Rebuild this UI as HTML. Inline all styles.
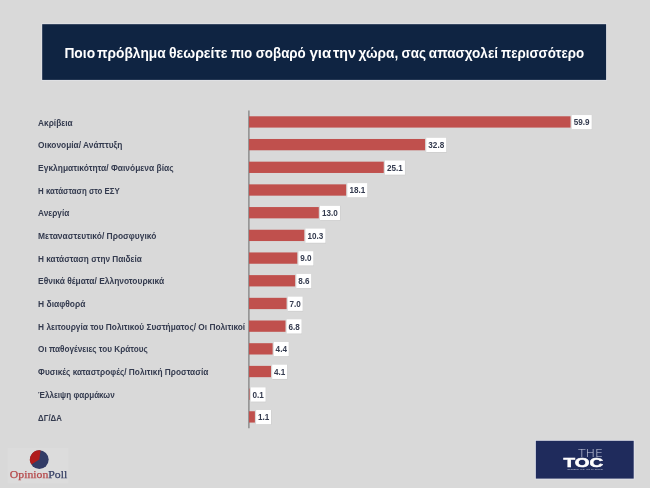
<!DOCTYPE html>
<html lang="el">
<head>
<meta charset="utf-8">
<title>Ποιο πρόβλημα θεωρείτε πιο σοβαρό για την χώρα</title>
<style>
html,body{margin:0;padding:0;background:#d9d9d9;}
body{width:650px;height:488px;overflow:hidden;}
svg{display:block;}
text{font-family:"Liberation Sans",sans-serif;}
.lab{font-size:8.35px;font-weight:bold;fill:#343b4f;}
.val{font-size:8.15px;font-weight:bold;fill:#343b4f;}
.ttl{font-size:14.4px;font-weight:bold;fill:#ffffff;}
.op{font-family:"Liberation Serif",serif;font-size:10.6px;}
</style>
</head>
<body>
<svg width="650" height="488" viewBox="0 0 650 488">
<rect x="0" y="0" width="650" height="488" fill="#d9d9d9"/>
<rect x="41.3" y="23.3" width="565.7" height="57.5" fill="#e0e1e5"/>
<rect x="42.2" y="24.2" width="563.9" height="55.7" fill="#0f2442"/>
<text class="ttl" y="58.3"><tspan x="64.4" textLength="30.7" lengthAdjust="spacingAndGlyphs">Ποιο</tspan> <tspan x="97.0" textLength="68.7" lengthAdjust="spacingAndGlyphs">πρόβλημα</tspan> <tspan x="168.9" textLength="58.6" lengthAdjust="spacingAndGlyphs">θεωρείτε</tspan> <tspan x="230.7" textLength="21.4" lengthAdjust="spacingAndGlyphs">πιο</tspan> <tspan x="255.7" textLength="50.1" lengthAdjust="spacingAndGlyphs">σοβαρό</tspan> <tspan x="309.5" textLength="21.8" lengthAdjust="spacingAndGlyphs">για</tspan> <tspan x="333.0" textLength="23.0" lengthAdjust="spacingAndGlyphs">την</tspan> <tspan x="358.4" textLength="39.9" lengthAdjust="spacingAndGlyphs">χώρα,</tspan> <tspan x="401.5" textLength="24.5" lengthAdjust="spacingAndGlyphs">σας</tspan> <tspan x="428.8" textLength="69.3" lengthAdjust="spacingAndGlyphs">απασχολεί</tspan> <tspan x="501.0" textLength="83.2" lengthAdjust="spacingAndGlyphs">περισσότερο</tspan></text>
<line x1="248.9" y1="110.6" x2="248.9" y2="428.3" stroke="#808080" stroke-width="1.3"/>
<rect x="249.0" y="116.29" width="321.54" height="11.3" fill="#c0504d"/>
<text class="lab" x="38.1" y="125.54" textLength="34.5" lengthAdjust="spacingAndGlyphs">Ακρίβεια</text>
<rect x="572.14" y="115.04" width="20.0" height="14.9" fill="#c9c9c9"/>
<rect x="571.74" y="115.04" width="20.0" height="14.3" fill="#ffffff"/>
<text class="val" x="581.74" y="125.34" text-anchor="middle">59.9</text>
<rect x="249.0" y="138.98" width="176.07" height="11.3" fill="#c0504d"/>
<text class="lab" x="38.1" y="148.23" textLength="84.3" lengthAdjust="spacingAndGlyphs">Οικονομία/ Ανάπτυξη</text>
<rect x="426.67" y="137.73" width="20.0" height="14.9" fill="#c9c9c9"/>
<rect x="426.27" y="137.73" width="20.0" height="14.3" fill="#ffffff"/>
<text class="val" x="436.27" y="148.03" text-anchor="middle">32.8</text>
<rect x="249.0" y="161.67" width="134.74" height="11.3" fill="#c0504d"/>
<text class="lab" x="38.1" y="170.92" textLength="135.5" lengthAdjust="spacingAndGlyphs">Εγκληματικότητα/ Φαινόμενα βίας</text>
<rect x="385.34" y="160.42" width="20.0" height="14.9" fill="#c9c9c9"/>
<rect x="384.94" y="160.42" width="20.0" height="14.3" fill="#ffffff"/>
<text class="val" x="394.94" y="170.72" text-anchor="middle">25.1</text>
<rect x="249.0" y="184.36" width="97.16" height="11.3" fill="#c0504d"/>
<text class="lab" x="38.1" y="193.61" textLength="81.7" lengthAdjust="spacingAndGlyphs">Η κατάσταση στο ΕΣΥ</text>
<rect x="347.76" y="183.11" width="20.0" height="14.9" fill="#c9c9c9"/>
<rect x="347.36" y="183.11" width="20.0" height="14.3" fill="#ffffff"/>
<text class="val" x="357.36" y="193.41" text-anchor="middle">18.1</text>
<rect x="249.0" y="207.05" width="69.78" height="11.3" fill="#c0504d"/>
<text class="lab" x="38.1" y="216.30" textLength="31.2" lengthAdjust="spacingAndGlyphs">Ανεργία</text>
<rect x="320.38" y="205.80" width="20.0" height="14.9" fill="#c9c9c9"/>
<rect x="319.98" y="205.80" width="20.0" height="14.3" fill="#ffffff"/>
<text class="val" x="329.98" y="216.10" text-anchor="middle">13.0</text>
<rect x="249.0" y="229.74" width="55.29" height="11.3" fill="#c0504d"/>
<text class="lab" x="38.1" y="238.99" textLength="118.3" lengthAdjust="spacingAndGlyphs">Μεταναστευτικό/ Προσφυγικό</text>
<rect x="305.89" y="228.49" width="20.0" height="14.9" fill="#c9c9c9"/>
<rect x="305.49" y="228.49" width="20.0" height="14.3" fill="#ffffff"/>
<text class="val" x="315.49" y="238.79" text-anchor="middle">10.3</text>
<rect x="249.0" y="252.44" width="48.31" height="11.3" fill="#c0504d"/>
<text class="lab" x="38.1" y="261.69" textLength="103.7" lengthAdjust="spacingAndGlyphs">Η κατάσταση στην Παιδεία</text>
<rect x="298.91" y="251.19" width="14.9" height="14.9" fill="#c9c9c9"/>
<rect x="298.51" y="251.19" width="14.9" height="14.3" fill="#ffffff"/>
<text class="val" x="305.96" y="261.49" text-anchor="middle">9.0</text>
<rect x="249.0" y="275.12" width="46.16" height="11.3" fill="#c0504d"/>
<text class="lab" x="38.1" y="284.38" textLength="126.1" lengthAdjust="spacingAndGlyphs">Εθνικά θέματα/ Ελληνοτουρκικά</text>
<rect x="296.76" y="273.88" width="14.9" height="14.9" fill="#c9c9c9"/>
<rect x="296.36" y="273.88" width="14.9" height="14.3" fill="#ffffff"/>
<text class="val" x="303.81" y="284.17" text-anchor="middle">8.6</text>
<rect x="249.0" y="297.82" width="37.58" height="11.3" fill="#c0504d"/>
<text class="lab" x="38.1" y="307.07" textLength="47.3" lengthAdjust="spacingAndGlyphs">Η διαφθορά</text>
<rect x="288.18" y="296.57" width="14.9" height="14.9" fill="#c9c9c9"/>
<rect x="287.78" y="296.57" width="14.9" height="14.3" fill="#ffffff"/>
<text class="val" x="295.23" y="306.87" text-anchor="middle">7.0</text>
<rect x="249.0" y="320.50" width="36.50" height="11.3" fill="#c0504d"/>
<text class="lab" x="38.1" y="329.75" textLength="207.1" lengthAdjust="spacingAndGlyphs">Η λειτουργία του Πολιτικού Συστήματος/ Οι Πολιτικοί</text>
<rect x="287.10" y="319.25" width="14.9" height="14.9" fill="#c9c9c9"/>
<rect x="286.70" y="319.25" width="14.9" height="14.3" fill="#ffffff"/>
<text class="val" x="294.15" y="329.55" text-anchor="middle">6.8</text>
<rect x="249.0" y="343.20" width="23.62" height="11.3" fill="#c0504d"/>
<text class="lab" x="38.1" y="352.45" textLength="109.6" lengthAdjust="spacingAndGlyphs">Οι παθογένειες του Κράτους</text>
<rect x="274.22" y="341.95" width="14.9" height="14.9" fill="#c9c9c9"/>
<rect x="273.82" y="341.95" width="14.9" height="14.3" fill="#ffffff"/>
<text class="val" x="281.27" y="352.25" text-anchor="middle">4.4</text>
<rect x="249.0" y="365.88" width="22.01" height="11.3" fill="#c0504d"/>
<text class="lab" x="38.1" y="375.13" textLength="170.2" lengthAdjust="spacingAndGlyphs">Φυσικές καταστροφές/ Πολιτική Προστασία</text>
<rect x="272.61" y="364.63" width="14.9" height="14.9" fill="#c9c9c9"/>
<rect x="272.21" y="364.63" width="14.9" height="14.3" fill="#ffffff"/>
<text class="val" x="279.66" y="374.93" text-anchor="middle">4.1</text>
<rect x="249.0" y="388.58" width="0.54" height="11.3" fill="#c0504d"/>
<text class="lab" x="38.1" y="397.83" textLength="76.6" lengthAdjust="spacingAndGlyphs">Έλλειψη φαρμάκων</text>
<rect x="251.14" y="387.33" width="14.9" height="14.9" fill="#c9c9c9"/>
<rect x="250.74" y="387.33" width="14.9" height="14.3" fill="#ffffff"/>
<text class="val" x="258.19" y="397.62" text-anchor="middle">0.1</text>
<rect x="249.0" y="411.26" width="5.90" height="11.3" fill="#c0504d"/>
<text class="lab" x="38.1" y="420.51" textLength="23.8" lengthAdjust="spacingAndGlyphs">ΔΓ/ΔΑ</text>
<rect x="256.50" y="410.01" width="14.9" height="14.9" fill="#c9c9c9"/>
<rect x="256.10" y="410.01" width="14.9" height="14.3" fill="#ffffff"/>
<text class="val" x="263.55" y="420.31" text-anchor="middle">1.1</text>
<rect x="7.5" y="448" width="61" height="35.5" fill="#dcdcdc"/>
<circle cx="39.3" cy="459.6" r="9.35" fill="#323c66"/>
<path d="M39.3 459.6 L40.60 450.34 A9.35 9.35 0 0 0 31.37 464.55 Z" fill="#b01c1c"/>
<text class="op" x="9.8" y="478.2" textLength="57.4" lengthAdjust="spacingAndGlyphs"><tspan fill="#b5484a" stroke="#b5484a" stroke-width="0.25">Opinion</tspan><tspan fill="#394266" stroke="#394266" stroke-width="0.25">Poll</tspan></text>
<rect x="534.95" y="439.9" width="99.65" height="39.6" fill="#e0e1e9"/>
<rect x="535.85" y="440.8" width="97.85" height="37.8" fill="#1f2b5c"/>
<text x="577.9" y="456.5" textLength="25.2" lengthAdjust="spacingAndGlyphs" style="font-family:'DejaVu Sans Light','DejaVu Sans',sans-serif;font-size:10px;font-weight:200;fill:#ccd0e2;">THE</text>
<text x="563.5" y="467.4" textLength="39.6" lengthAdjust="spacingAndGlyphs" style="font-size:13.6px;font-weight:bold;fill:#ffffff;stroke:#ffffff;stroke-width:0.55;">TOC</text>
<text x="567" y="470.3" textLength="36" lengthAdjust="spacingAndGlyphs" style="font-size:2.5px;font-weight:bold;fill:#c9cde0;opacity:0.75;">TIMES OF CHANGE</text>
</svg>
</body>
</html>
